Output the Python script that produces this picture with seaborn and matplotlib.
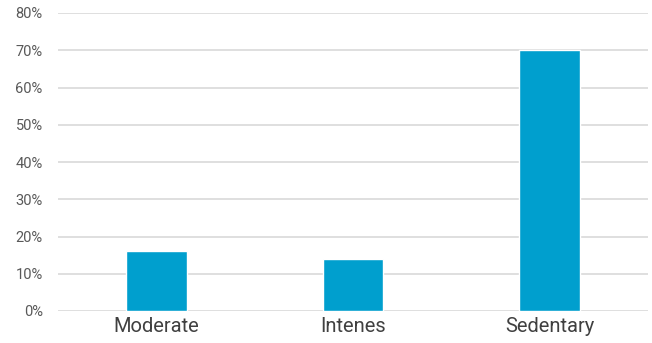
import matplotlib
matplotlib.use("Agg")
import matplotlib.pyplot as plt
import seaborn as sns
import pandas as pd
from matplotlib.ticker import PercentFormatter

categories = ["Moderate", "Intenes", "Sedentary"]
values = [0.16, 0.14, 0.70]

sns.set_style("white")
plt.rcParams['font.family'] = ['Roboto', 'DejaVu Sans']

df = pd.DataFrame({"cat": categories, "val": values})
fig = plt.figure(figsize=(6.52, 3.43), dpi=100)
ax = fig.add_axes([58/652, 1 - 311/343, 590/652, 298/343])
sns.barplot(data=df, x="cat", y="val", color="#009FCE", width=0.31, saturation=1, ax=ax, zorder=3)
ax.set_ylim(0, 0.8)
ax.set_yticks([i/10 for i in range(9)])
ax.yaxis.set_major_formatter(PercentFormatter(1.0, decimals=0))
ax.grid(axis='y', color='#D9D9D9', linewidth=1.2, zorder=0)
ax.set_axisbelow(True)
for s in ax.spines.values():
    s.set_visible(False)
ax.tick_params(axis='y', length=0, labelsize=10.5, labelcolor='#595959', pad=11)
ax.tick_params(axis='x', length=0, labelsize=14.5, labelcolor='#404040', pad=4)
ax.set_xlabel("")
ax.set_ylabel("")
fig.savefig("out.png", dpi=100)
